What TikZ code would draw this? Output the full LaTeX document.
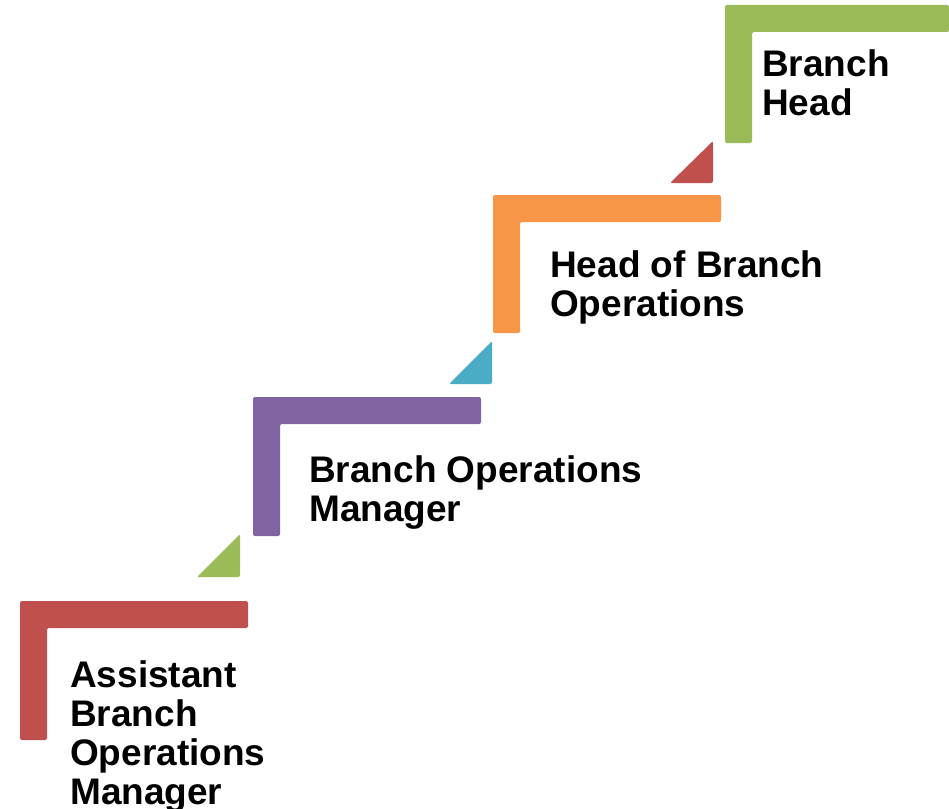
\documentclass[tikz,border=0pt]{standalone}
\usepackage{fontspec}
\setmainfont{Liberation Sans}
\definecolor{cRed}{HTML}{C0504D}
\definecolor{cPurple}{HTML}{8064A2}
\definecolor{cOrange}{HTML}{F79646}
\definecolor{cGreen}{HTML}{9BBB59}
\definecolor{cTeal}{HTML}{4BACC6}
\begin{document}
\begin{tikzpicture}[x=1pt,y=-1pt,
  stepL/.style={fill=#1, rounded corners=2pt},
  tri/.style={fill=#1, rounded corners=2pt},
  lbl/.style={anchor=base west, align=left, inner sep=0pt, font=\fontsize{37}{39}\selectfont\bfseries}]
\useasboundingbox (0,0) rectangle (949,808);
% steps
\foreach \x/\t/\r/\b/\c in {20/601/248/740/cRed, 253/397/481/536/cPurple, 493/195/721/333/cOrange, 725/5/949/143/cGreen}{
  \path[stepL=\c] (\x,\t) -- (\r,\t) -- (\r,\t+27) -- (\x+27,\t+27) -- (\x+27,\b) -- (\x,\b) -- cycle;
}
% triangles
\path[tri=cGreen] (197,577) -- (240,577) -- (240,534) -- cycle;
\path[tri=cTeal] (449,384) -- (492,384) -- (492,341) -- cycle;
\path[tri=cRed] (670,183) -- (713,183) -- (713,141) -- cycle;
% labels (anchored at the baseline of the last line)
\node[lbl] (abom) at (70,804) {Assistant\\Branch\\Operations\\Manager};
\node[lbl] (bom) at (309,521) {Branch Operations\\Manager};
\node[lbl] (hbo) at (550,316) {Head of Branch\\Operations};
\node[lbl] (bh) at (762,115) {Branch\\Head};
\end{tikzpicture}
\end{document}
